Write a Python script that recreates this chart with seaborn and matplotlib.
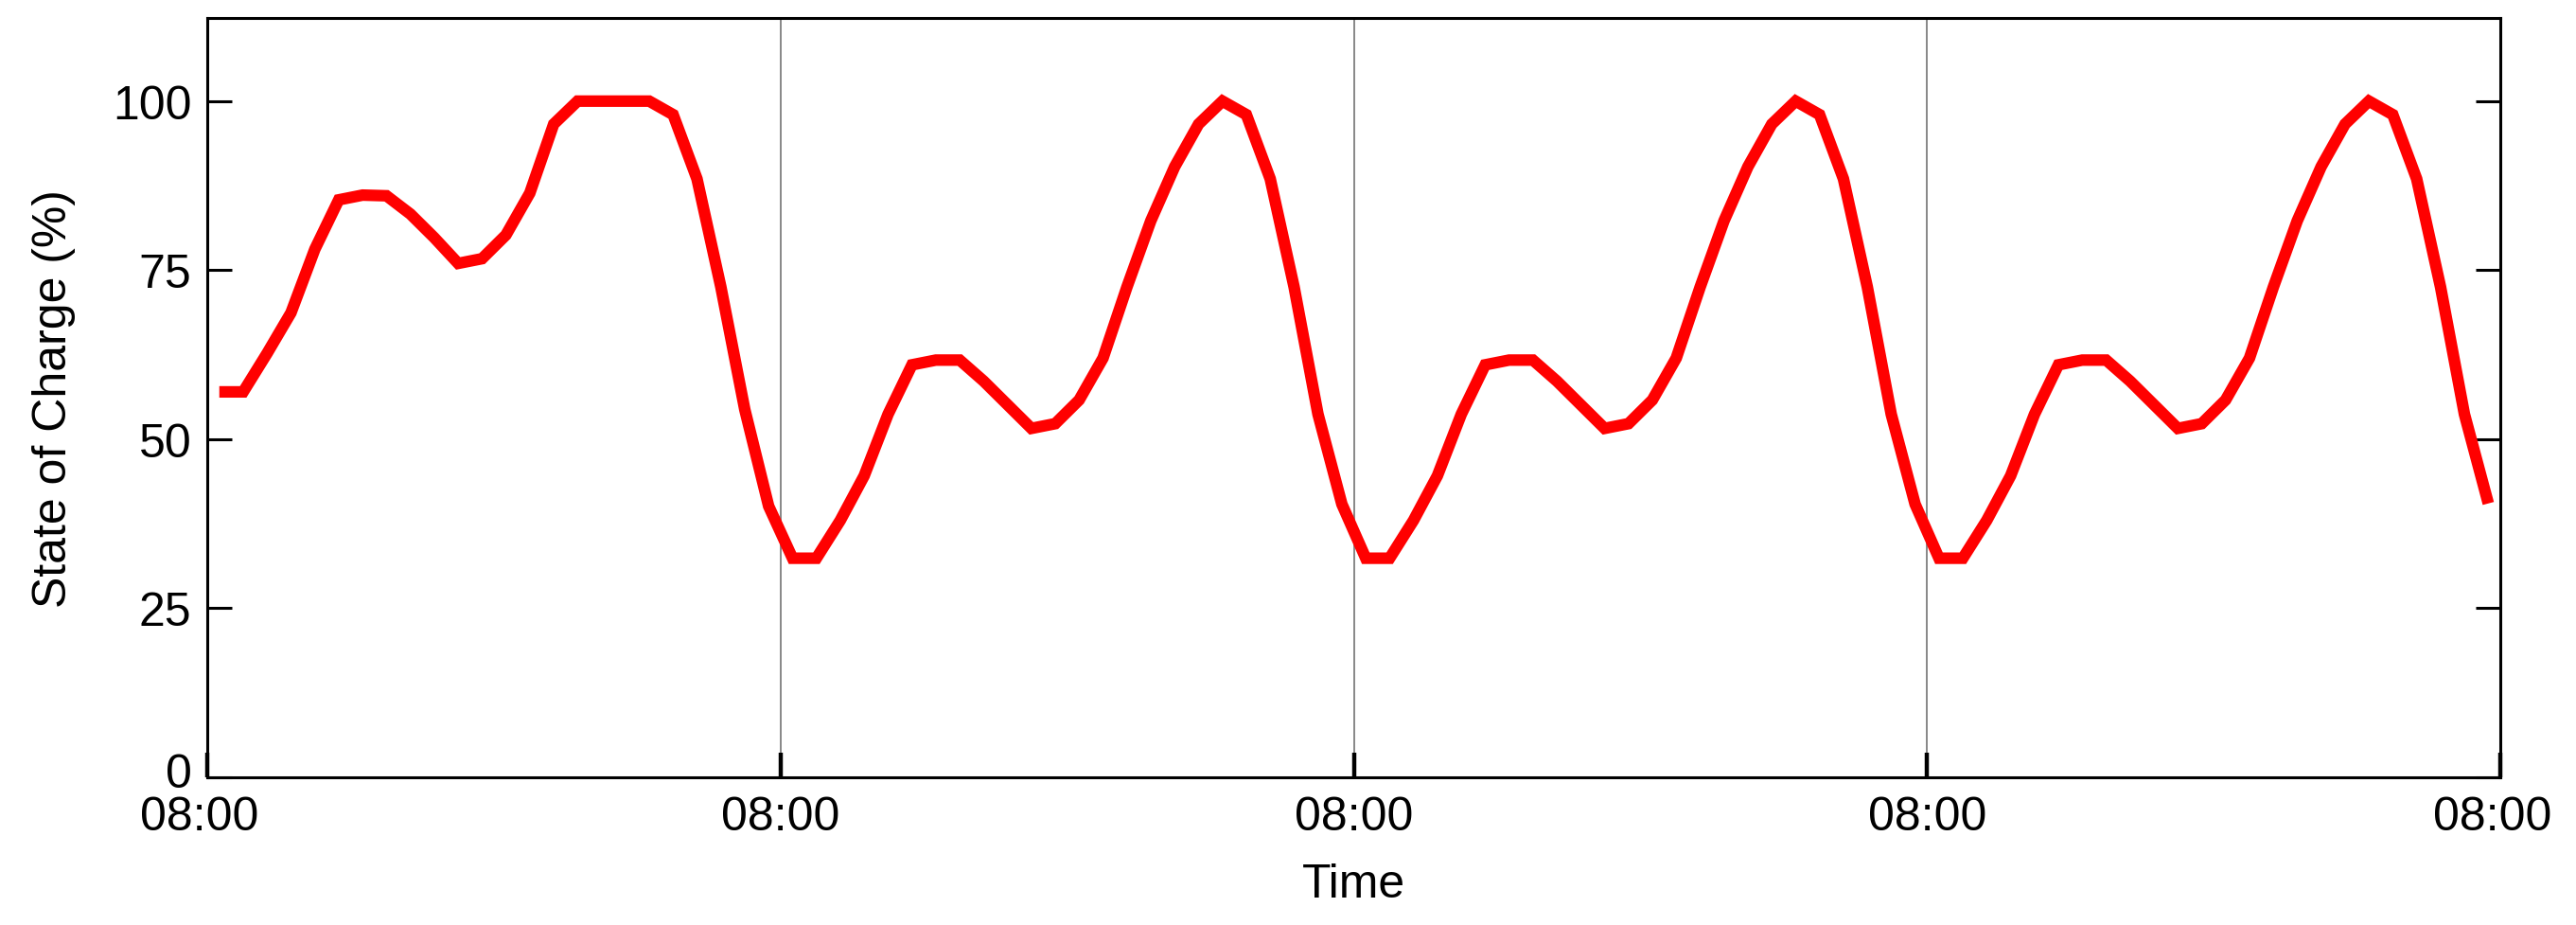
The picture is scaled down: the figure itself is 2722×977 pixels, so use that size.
import pandas as pd
import numpy as np
import seaborn as sns
import matplotlib.pyplot as plt
import matplotlib.dates as mdates
from matplotlib.transforms import ScaledTranslation

# hourly state of charge, one value every hour starting 08:30 on day 1
day1 = [57.0, 57.0, 62.7, 68.7, 78.1, 85.4, 86.1, 86.0, 83.3, 79.8, 76.0, 76.7,
        80.2, 86.4, 96.6, 100.0, 100.0, 100.0, 100.0, 98.0, 88.5, 72.5, 54.4, 40.1]
day2 = [32.4, 32.4, 38.0, 44.6, 53.7, 61.0, 61.7, 61.7, 58.6, 55.1, 51.6, 52.3,
        55.8, 62.0, 72.5, 82.3, 90.3, 96.6, 100.0, 98.0, 88.5, 72.5, 53.7, 40.4]
day3 = [32.4, 32.4, 38.0, 44.6, 53.7, 61.0, 61.7, 61.7, 58.6, 55.1, 51.6, 52.3,
        55.8, 62.0, 72.5, 82.3, 90.3, 96.6, 100.0, 98.0, 88.5, 72.5, 53.7, 40.4]
day4 = [32.4, 32.4, 38.0, 44.6, 53.7, 61.0, 61.7, 61.7, 58.6, 55.1, 51.6, 52.3,
        55.8, 62.0, 72.5, 82.3, 90.3, 96.6, 100.0, 98.0, 88.5, 72.5, 53.7, 40.5]

start = "2023-01-01 08:30"
end_view = ("2023-01-01 08:00", "2023-01-05 08:00")
y_ticks = [0, 25, 50, 75, 100]

soc = day1 + day2 + day3 + day4
df = pd.DataFrame({"time": pd.date_range(start, periods=len(soc), freq="h"), "soc": soc})

sns.set_style("ticks")
plt.rcParams["font.family"] = ["Liberation Sans", "DejaVu Sans"]
plt.rcParams["text.color"] = "black"
plt.rcParams["axes.labelcolor"] = "black"

fig, ax = plt.subplots(figsize=(13.61, 4.89), dpi=200)
fig.subplots_adjust(left=0.0805, right=0.9706, bottom=0.1595, top=0.9796)

sns.lineplot(data=df, x="time", y="soc", color="#ff0000", linewidth=4.4, ax=ax,
             solid_joinstyle="miter", solid_capstyle="butt")

ax.set_xlim(pd.Timestamp(end_view[0]), pd.Timestamp(end_view[1]))
ax.set_ylim(0, 112.3)
ax.set_yticks(y_ticks)
ax.xaxis.set_major_locator(mdates.HourLocator(byhour=8))
ax.xaxis.set_major_formatter(mdates.DateFormatter("%H:%M"))

# thin vertical lines at each day boundary
ax.grid(axis="x", color="0.45", linewidth=0.6)
ax.grid(axis="y", visible=False)

ax.tick_params(axis="y", direction="in", length=9.4, width=1.1, labelsize=18,
               pad=6, right=True, left=True, colors="black")
ax.tick_params(axis="x", direction="in", length=9.4, width=1.6, labelsize=18, pad=7,
               colors="black")
for s in ax.spines.values():
    s.set_linewidth(1.1)
    s.set_color("black")

ax.set_xlabel("Time", fontsize=18, labelpad=9)
ax.set_ylabel("State of Charge (%)", fontsize=18, labelpad=14)

fig.canvas.draw()
# the end labels sit a little left of their ticks, and the 0 a little high
xl = ax.get_xticklabels()
for lab in (xl[0], xl[-1]):
    lab.set_transform(lab.get_transform() + ScaledTranslation(-3 / 72, 0, fig.dpi_scale_trans))
yl = ax.get_yticklabels()[0]
yl.set_transform(yl.get_transform() + ScaledTranslation(0, 3 / 72, fig.dpi_scale_trans))

plt.savefig("out.png", dpi=200)
